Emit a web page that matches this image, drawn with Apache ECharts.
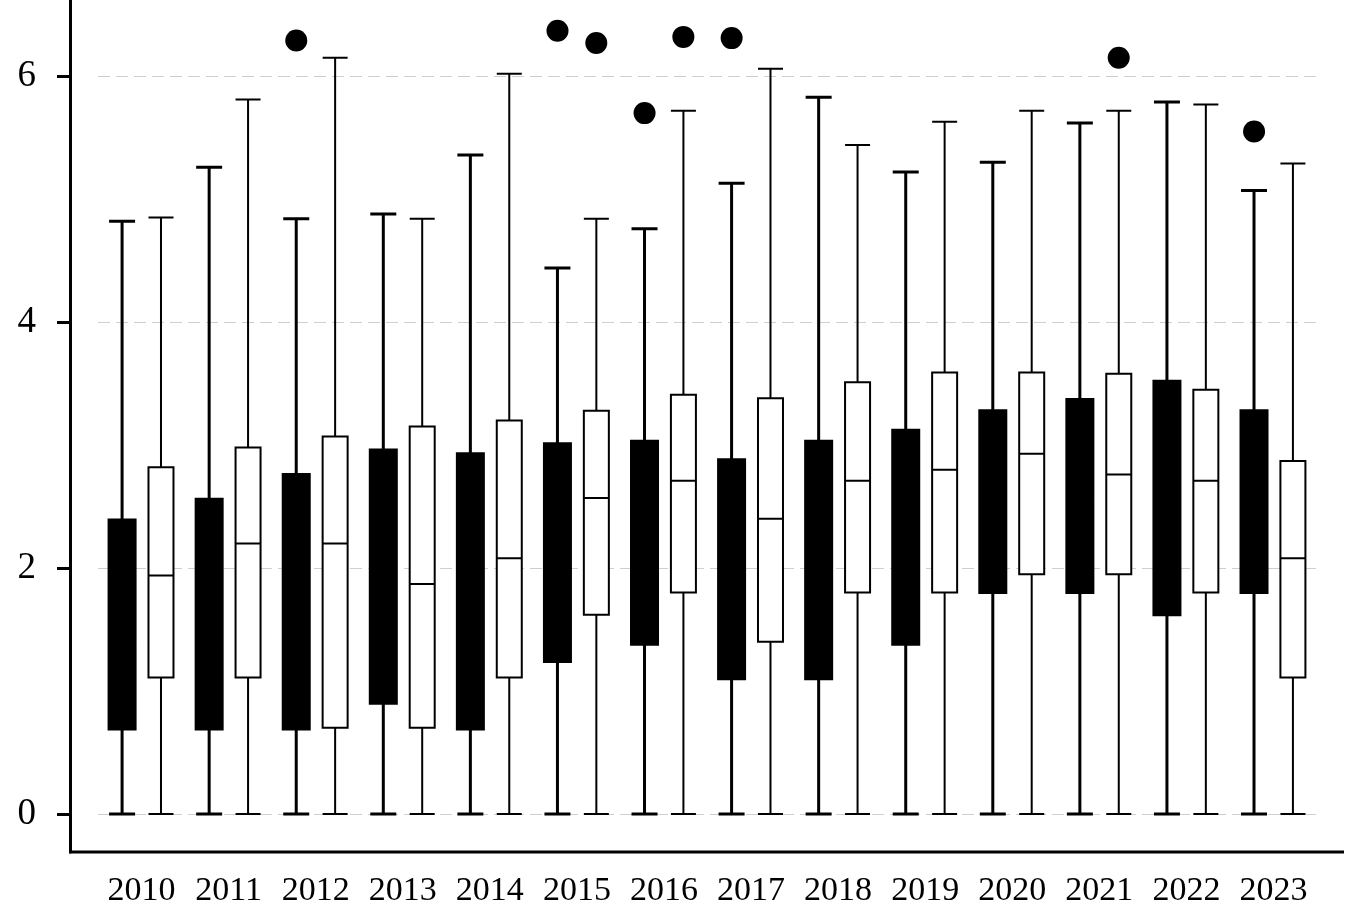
<!DOCTYPE html>
<html lang="en">
<head>
    <meta charset="UTF-8">
    <title>Boxplot 2010-2023</title>
    <script src="https://cdn.jsdelivr.net/npm/echarts@6/dist/echarts.min.js"></script>
    <style>
        html, body { margin: 0; padding: 0; background: #fff; }
        #main { width: 1348px; height: 911px; }
    </style>
</head>
<body>
<div id="main"></div>
<script>
    // years on the x axis
    var years = ['2010', '2011', '2012', '2013', '2014', '2015', '2016',
                 '2017', '2018', '2019', '2020', '2021', '2022', '2023'];

    // [min, Q1, median, Q3, max] - black boxes
    var blackBoxes = [
        [0, 0.69, 1.39, 2.39, 4.82],
        [0, 0.69, 1.40, 2.56, 5.26],
        [0, 0.69, 1.61, 2.76, 4.84],
        [0, 0.90, 1.79, 2.96, 4.88],
        [0, 0.69, 1.79, 2.93, 5.36],
        [0, 1.24, 2.08, 3.01, 4.44],
        [0, 1.38, 2.20, 3.03, 4.76],
        [0, 1.10, 1.95, 2.88, 5.13],
        [0, 1.10, 2.08, 3.03, 5.83],
        [0, 1.38, 2.30, 3.12, 5.22],
        [0, 1.80, 2.48, 3.28, 5.30],
        [0, 1.80, 2.56, 3.37, 5.62],
        [0, 1.62, 2.64, 3.52, 5.79],
        [0, 1.80, 2.48, 3.28, 5.07]
    ];

    // [min, Q1, median, Q3, max] - white boxes
    var whiteBoxes = [
        [0, 1.11, 1.94, 2.82, 4.85],
        [0, 1.11, 2.20, 2.98, 5.81],
        [0, 0.70, 2.20, 3.07, 6.15],
        [0, 0.70, 1.87, 3.15, 4.84],
        [0, 1.11, 2.08, 3.20, 6.02],
        [0, 1.62, 2.57, 3.28, 4.84],
        [0, 1.80, 2.71, 3.41, 5.72],
        [0, 1.40, 2.40, 3.38, 6.06],
        [0, 1.80, 2.71, 3.51, 5.44],
        [0, 1.80, 2.80, 3.59, 5.63],
        [0, 1.95, 2.93, 3.59, 5.72],
        [0, 1.95, 2.76, 3.58, 5.72],
        [0, 1.80, 2.71, 3.45, 5.77],
        [0, 1.11, 2.08, 2.87, 5.29]
    ];

    // outliers [year, value]
    var blackOutliers = [['2012', 6.29], ['2015', 6.37], ['2016', 5.70], ['2017', 6.31], ['2023', 5.55]];
    var whiteOutliers = [['2015', 6.27], ['2016', 6.32], ['2021', 6.15]];

    var yTicks = [0, 2, 4, 6];

    var chart = echarts.init(document.getElementById('main'));
    var serif = '"Liberation Serif", "DejaVu Serif", serif';

    var option = {
        backgroundColor: '#ffffff',
        animation: false,
        grid: { left: 98, right: 31, top: 0, bottom: 59 },
        xAxis: {
            type: 'category',
            data: years,
            axisLine: { show: false },
            axisTick: { show: false },
            axisLabel: { interval: 0, color: '#000', fontFamily: serif, fontSize: 34, margin: 22 },
            splitLine: { show: false }
        },
        yAxis: {
            type: 'value',
            min: -0.31,
            max: 6.62,
            offset: 28,
            axisLine: { show: true, lineStyle: { color: '#000', width: 3 } },
            axisTick: { show: true, length: 13, customValues: yTicks, lineStyle: { color: '#000', width: 3 } },
            axisLabel: { color: '#000', fontFamily: serif, fontSize: 37, margin: 34, customValues: yTicks },
            splitLine: { show: true, lineStyle: { color: '#cfcfcf', type: [12, 6], width: 1 } }
        },
        graphic: [
            { type: 'line', shape: { x1: 69, y1: 852, x2: 1344, y2: 852 },
              style: { stroke: '#000', lineWidth: 3 }, z: 10 }
        ],
        series: [
            {
                type: 'boxplot',
                data: blackBoxes,
                boxWidth: [26, 26],
                itemStyle: { color: '#000', borderColor: '#000', borderWidth: 3 }
            },
            {
                type: 'boxplot',
                data: whiteBoxes,
                boxWidth: [25, 25],
                itemStyle: { color: '#fff', borderColor: '#000', borderWidth: 2 }
            },
            {
                type: 'scatter',
                data: blackOutliers,
                symbol: 'circle',
                symbolSize: 22,
                symbolOffset: [-19.4, 0],
                itemStyle: { color: '#000', opacity: 1 }
            },
            {
                type: 'scatter',
                data: whiteOutliers,
                symbol: 'circle',
                symbolSize: 22,
                symbolOffset: [19.4, 0],
                itemStyle: { color: '#000', opacity: 1 }
            }
        ]
    };
    chart.setOption(option);
</script>
</body>
</html>
